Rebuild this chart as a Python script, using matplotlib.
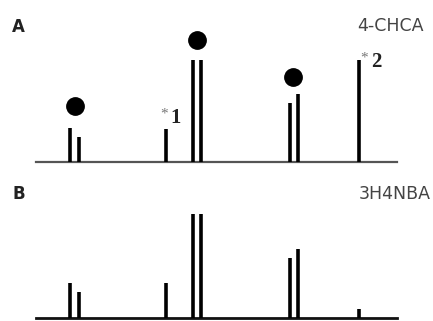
import matplotlib
matplotlib.use("Agg")
import matplotlib.pyplot as plt

W, H = 433, 321

# Peak positions (arbitrary x units) and relative intensities
positions = [70, 79, 166, 193, 201, 290, 298, 359]
intens_A = [33, 24.5, 32, 100, 100, 58, 67, 100]
intens_B = [34, 25, 34, 100, 100, 58, 66, 9]

# Marked peaks (filled circles) in panel A
dot_x = [75, 197, 293]
dot_y = [55, 119.6, 83.3]

# Starred annotations in panel A
star_labels = ["1", "2"]
star_x = [176, 376]
star_y = [43, 98]

panel_letters = ["A", "B"]
panel_names = ["4-CHCA", "3H4NBA"]

fig = plt.figure(figsize=(W / 100, H / 100), dpi=100)
fig.patch.set_facecolor("white")

def px_ax(x0, y_base, w, h):
    return fig.add_axes([x0 / W, (H - y_base) / H, w / W, h / H])

axA = px_ax(36, 162, 361, 150)
axB = px_ax(36, 318, 361, 150)

for ax, vals, scale, base_col, base_lw in [(axA, intens_A, 1.02, "#555555", 1.6),
                                           (axB, intens_B, 1.04, "#111111", 2.0)]:
    ax.set_xlim(36, 397)
    ax.set_ylim(0, 150 / scale)
    ax.axis("off")
    ax.axhline(0, color=base_col, lw=base_lw, clip_on=False, zorder=1)
    ax.vlines(positions, 0, vals, colors="black", linewidth=2.6, zorder=2,
              capstyle="butt")

axA.plot(dot_x, dot_y, "o", color="black", markersize=12.5, clip_on=False)

for lab, x, y in zip(star_labels, star_x, star_y):
    axA.text(x, y, lab, fontsize=15, fontweight="bold", family="Liberation Serif",
             ha="center", va="center", color="#222222")
    axA.text(x - 12, y + 4, "*", fontsize=11, family="Liberation Serif",
             ha="center", va="center", color="#777777")

def ftext(x, y, s, **kw):
    fig.text(x / W, 1 - y / H, s, **kw)

ftext(18, 27, panel_letters[0], fontsize=12, fontweight="bold", ha="center", va="center",
      color="#222222")
ftext(19, 194, panel_letters[1], fontsize=12, fontweight="bold", ha="center", va="center",
      color="#222222")
ftext(424, 26, panel_names[0], fontsize=12.5, ha="right", va="center", color="#444444")
ftext(431, 194, panel_names[1], fontsize=12.5, ha="right", va="center", color="#444444")

fig.savefig("out.png", dpi=100, facecolor="white")
